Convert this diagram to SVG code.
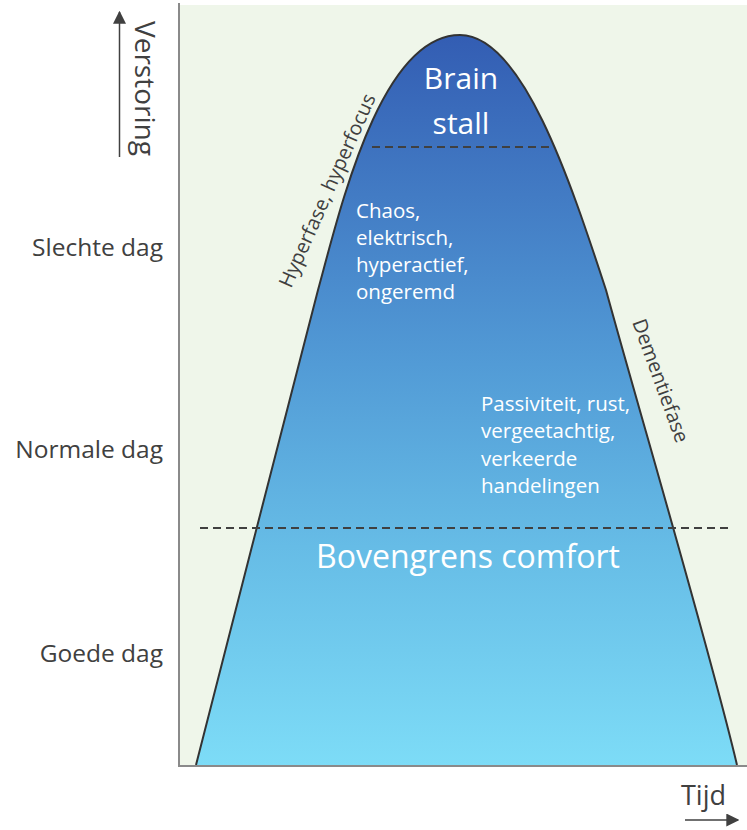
<svg xmlns="http://www.w3.org/2000/svg" width="747" height="830" viewBox="0 0 747 830">
<style>
.lbl{font-family:"Open Sans","Noto Sans",sans-serif;fill:#404040}
.wt{font-family:"Open Sans","Noto Sans",sans-serif;fill:#ffffff}
.dash{stroke:#404040;stroke-width:2;stroke-dasharray:8 5;fill:none}
.axis{stroke:#8a8a8a;stroke-width:2;fill:none}
.arr{stroke:#404040;stroke-width:1.5;fill:none}
</style>
<defs>
<linearGradient id="g" x1="0" y1="35" x2="0" y2="766" gradientUnits="userSpaceOnUse">
<stop offset="0" stop-color="#335db3"/>
<stop offset="0.45" stop-color="#529bd6"/>
<stop offset="0.7" stop-color="#66bce6"/>
<stop offset="1" stop-color="#7ddcf7"/>
</linearGradient>
<marker id="ah" viewBox="0 0 10 10" refX="9" refY="5" markerWidth="13" markerHeight="13" markerUnits="userSpaceOnUse" orient="auto">
<path d="M0,0 L10,5 L0,10 z" fill="#404040"/>
</marker>
</defs>
<rect x="0" y="0" width="747" height="830" fill="#ffffff"/>
<rect id="bg" x="180" y="5" width="567" height="761" fill="#eff6ea"/>
<g id="bell">
<path d="M196,765 C230,630 290,400 318,290 C340,210 380,35 460,35 C522,35 570,180 606,290 C636,400 710,650 737,765 Z" fill="url(#g)" stroke="none"/>
<path d="M196,765 C230,630 290,400 318,290 C340,210 380,35 460,35 C522,35 570,180 606,290 C636,400 710,650 737,765" fill="none" stroke="#333333" stroke-width="2"/>
</g>
<g id="connectors">
<line class="dash" x1="372" y1="147" x2="551" y2="147"/>
<line class="dash" x1="200" y1="528" x2="728" y2="528"/>
<line class="axis" x1="179" y1="3" x2="179" y2="767"/>
<line class="axis" x1="178" y1="766" x2="747" y2="766"/>
<line class="arr" x1="119.5" y1="157" x2="119.5" y2="12" marker-end="url(#ah)"/>
<line class="arr" x1="685" y1="820" x2="738" y2="820" marker-end="url(#ah)"/>
</g>
<g id="axis-labels">
<text class="lbl" font-size="28" transform="translate(135,21) rotate(90)">Verstoring</text>
<text class="lbl" font-size="27" x="681" y="805">Tijd</text>
<text class="lbl" font-size="24.5" x="163" y="256" text-anchor="end">Slechte dag</text>
<text class="lbl" font-size="24.5" x="163" y="458" text-anchor="end">Normale dag</text>
<text class="lbl" font-size="24.5" x="163" y="662" text-anchor="end">Goede dag</text>
</g>
<g id="brain-stall">
<text class="wt" font-size="30" x="461" y="89" text-anchor="middle">Brain</text>
<text class="wt" font-size="30" x="461" y="134" text-anchor="middle">stall</text>
</g>
<g id="chaos">
<text class="wt" font-size="20.5"><tspan x="356" y="218">Chaos,</tspan><tspan x="356" y="245">elektrisch,</tspan><tspan x="356" y="272">hyperactief,</tspan><tspan x="356" y="299">ongeremd</tspan></text>
</g>
<g id="passiviteit">
<text class="wt" font-size="20.5"><tspan x="481" y="411">Passiviteit, rust,</tspan><tspan x="481" y="438">vergeetachtig,</tspan><tspan x="481" y="466">verkeerde</tspan><tspan x="481" y="493">handelingen</tspan></text>
</g>
<g id="comfort">
<text class="wt" font-size="32" x="468" y="568" text-anchor="middle">Bovengrens comfort</text>
</g>
<g id="phase-labels">
<text class="lbl" font-size="20" fill="#333" transform="translate(291,289) rotate(-66)">Hyperfase, hyperfocus</text>
<text class="lbl" font-size="20" fill="#333" transform="translate(632,322) rotate(70)">Dementiefase</text>
</g>
</svg>
